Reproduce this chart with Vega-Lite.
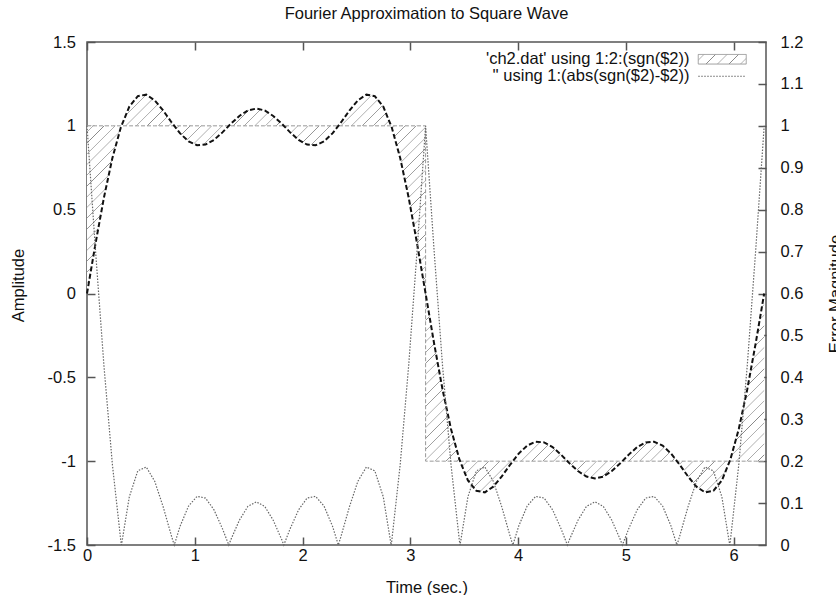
{
  "$schema": "https://vega.github.io/schema/vega-lite/v6.json",
  "width": 679,
  "height": 503,
  "autosize": "none",
  "padding": {"left": 87, "top": 42, "right": 70, "bottom": 50},
  "background": "white",
  "title": {"text": "Fourier Approximation to Square Wave", "fontSize": 16.5, "fontWeight": "normal", "color": "#111", "baseline": "alphabetic", "offset": -1, "anchor": "middle"},
  "datasets": {
    "wave": [
      {"t":0,"amp":0,"sgn":1},{"t":0.0785,"amp":0.296,"sgn":1},{"t":0.1571,"amp":0.572,"sgn":1},{"t":0.2356,"amp":0.808,"sgn":1},{"t":0.3142,"amp":0.991,"sgn":1},{"t":0.3927,"amp":1.115,"sgn":1},{"t":0.4712,"amp":1.177,"sgn":1},{"t":0.5498,"amp":1.186,"sgn":1},{"t":0.6283,"amp":1.152,"sgn":1},{"t":0.7069,"amp":1.091,"sgn":1},{"t":0.7854,"amp":1.020,"sgn":1},{"t":0.8639,"amp":0.955,"sgn":1},{"t":0.9425,"amp":0.907,"sgn":1},{"t":1.0210,"amp":0.884,"sgn":1},{"t":1.0996,"amp":0.888,"sgn":1},{"t":1.1781,"amp":0.916,"sgn":1},{"t":1.2566,"amp":0.961,"sgn":1},{"t":1.3352,"amp":1.013,"sgn":1},{"t":1.4137,"amp":1.059,"sgn":1},{"t":1.4923,"amp":1.092,"sgn":1},{"t":1.5708,"amp":1.103,"sgn":1},{"t":1.6493,"amp":1.092,"sgn":1},{"t":1.7279,"amp":1.059,"sgn":1},{"t":1.8064,"amp":1.013,"sgn":1},{"t":1.8850,"amp":0.961,"sgn":1},{"t":1.9635,"amp":0.916,"sgn":1},{"t":2.0420,"amp":0.888,"sgn":1},{"t":2.1206,"amp":0.884,"sgn":1},{"t":2.1991,"amp":0.907,"sgn":1},{"t":2.2777,"amp":0.955,"sgn":1},{"t":2.3562,"amp":1.020,"sgn":1},{"t":2.4347,"amp":1.091,"sgn":1},{"t":2.5133,"amp":1.152,"sgn":1},{"t":2.5918,"amp":1.186,"sgn":1},{"t":2.6704,"amp":1.177,"sgn":1},{"t":2.7489,"amp":1.115,"sgn":1},{"t":2.8274,"amp":0.991,"sgn":1},{"t":2.9060,"amp":0.808,"sgn":1},{"t":2.9845,"amp":0.572,"sgn":1},{"t":3.0631,"amp":0.296,"sgn":1},{"t":3.1416,"amp":0,"sgn":1},
      {"t":3.1416,"amp":0,"sgn":-1},{"t":3.2201,"amp":-0.296,"sgn":-1},{"t":3.2987,"amp":-0.572,"sgn":-1},{"t":3.3772,"amp":-0.808,"sgn":-1},{"t":3.4558,"amp":-0.991,"sgn":-1},{"t":3.5343,"amp":-1.115,"sgn":-1},{"t":3.6128,"amp":-1.177,"sgn":-1},{"t":3.6914,"amp":-1.186,"sgn":-1},{"t":3.7699,"amp":-1.152,"sgn":-1},{"t":3.8485,"amp":-1.091,"sgn":-1},{"t":3.9270,"amp":-1.020,"sgn":-1},{"t":4.0055,"amp":-0.955,"sgn":-1},{"t":4.0841,"amp":-0.907,"sgn":-1},{"t":4.1626,"amp":-0.884,"sgn":-1},{"t":4.2412,"amp":-0.888,"sgn":-1},{"t":4.3197,"amp":-0.916,"sgn":-1},{"t":4.3982,"amp":-0.961,"sgn":-1},{"t":4.4768,"amp":-1.013,"sgn":-1},{"t":4.5553,"amp":-1.059,"sgn":-1},{"t":4.6339,"amp":-1.092,"sgn":-1},{"t":4.7124,"amp":-1.103,"sgn":-1},{"t":4.7909,"amp":-1.092,"sgn":-1},{"t":4.8695,"amp":-1.059,"sgn":-1},{"t":4.9480,"amp":-1.013,"sgn":-1},{"t":5.0265,"amp":-0.961,"sgn":-1},{"t":5.1051,"amp":-0.916,"sgn":-1},{"t":5.1836,"amp":-0.888,"sgn":-1},{"t":5.2622,"amp":-0.884,"sgn":-1},{"t":5.3407,"amp":-0.907,"sgn":-1},{"t":5.4192,"amp":-0.955,"sgn":-1},{"t":5.4978,"amp":-1.020,"sgn":-1},{"t":5.5763,"amp":-1.091,"sgn":-1},{"t":5.6549,"amp":-1.152,"sgn":-1},{"t":5.7334,"amp":-1.186,"sgn":-1},{"t":5.8119,"amp":-1.177,"sgn":-1},{"t":5.8905,"amp":-1.115,"sgn":-1},{"t":5.9690,"amp":-0.991,"sgn":-1},{"t":6.0476,"amp":-0.808,"sgn":-1},{"t":6.1261,"amp":-0.572,"sgn":-1},{"t":6.2046,"amp":-0.296,"sgn":-1},{"t":6.2832,"amp":0,"sgn":-1}
    ],
    "err": [
      {"t":0,"e":1},{"t":0.0785,"e":0.704},{"t":0.1571,"e":0.428},{"t":0.2356,"e":0.192},{"t":0.3142,"e":0.009},{"t":0.3197,"e":0},{"t":0.3927,"e":0.115},{"t":0.4712,"e":0.177},{"t":0.5498,"e":0.186},{"t":0.6283,"e":0.152},{"t":0.7069,"e":0.091},{"t":0.7854,"e":0.020},{"t":0.8097,"e":0},{"t":0.8639,"e":0.045},{"t":0.9425,"e":0.093},{"t":1.0210,"e":0.116},{"t":1.0996,"e":0.112},{"t":1.1781,"e":0.084},{"t":1.2566,"e":0.039},{"t":1.3155,"e":0},{"t":1.3352,"e":0.013},{"t":1.4137,"e":0.059},{"t":1.4923,"e":0.092},{"t":1.5708,"e":0.103},{"t":1.6493,"e":0.092},{"t":1.7279,"e":0.059},{"t":1.8064,"e":0.013},{"t":1.8261,"e":0},{"t":1.8850,"e":0.039},{"t":1.9635,"e":0.084},{"t":2.0420,"e":0.112},{"t":2.1206,"e":0.116},{"t":2.1991,"e":0.093},{"t":2.2777,"e":0.045},{"t":2.3319,"e":0},{"t":2.3562,"e":0.020},{"t":2.4347,"e":0.091},{"t":2.5133,"e":0.152},{"t":2.5918,"e":0.186},{"t":2.6704,"e":0.177},{"t":2.7489,"e":0.115},{"t":2.8219,"e":0},{"t":2.8274,"e":0.009},{"t":2.9060,"e":0.192},{"t":2.9845,"e":0.428},{"t":3.0631,"e":0.704},{"t":3.1416,"e":1},
      {"t":3.2201,"e":0.704},{"t":3.2987,"e":0.428},{"t":3.3772,"e":0.192},{"t":3.4558,"e":0.009},{"t":3.4613,"e":0},{"t":3.5343,"e":0.115},{"t":3.6128,"e":0.177},{"t":3.6914,"e":0.186},{"t":3.7699,"e":0.152},{"t":3.8485,"e":0.091},{"t":3.9270,"e":0.020},{"t":3.9513,"e":0},{"t":4.0055,"e":0.045},{"t":4.0841,"e":0.093},{"t":4.1626,"e":0.116},{"t":4.2412,"e":0.112},{"t":4.3197,"e":0.084},{"t":4.3982,"e":0.039},{"t":4.4571,"e":0},{"t":4.4768,"e":0.013},{"t":4.5553,"e":0.059},{"t":4.6339,"e":0.092},{"t":4.7124,"e":0.103},{"t":4.7909,"e":0.092},{"t":4.8695,"e":0.059},{"t":4.9480,"e":0.013},{"t":4.9677,"e":0},{"t":5.0265,"e":0.039},{"t":5.1051,"e":0.084},{"t":5.1836,"e":0.112},{"t":5.2622,"e":0.116},{"t":5.3407,"e":0.093},{"t":5.4192,"e":0.045},{"t":5.4735,"e":0},{"t":5.4978,"e":0.020},{"t":5.5763,"e":0.091},{"t":5.6549,"e":0.152},{"t":5.7334,"e":0.186},{"t":5.8119,"e":0.177},{"t":5.8905,"e":0.115},{"t":5.9635,"e":0},{"t":5.9690,"e":0.009},{"t":6.0476,"e":0.192},{"t":6.1261,"e":0.428},{"t":6.2046,"e":0.704},{"t":6.2832,"e":1}
    ]
  },
  "layer": [
    {
      "data": {"name": "wave"},
      "encoding": {
        "x": {"field": "t", "type": "quantitative", "scale": {"domain": [0, 6.3], "nice": false, "zero": false},
          "axis": {"orient": "bottom", "values": [0,1,2,3,4,5,6], "format": "d", "labelBaseline": "alphabetic", "labelPadding": 23, "title": "Time (sec.)", "titleY": 47, "titleBaseline": "alphabetic"}},
        "y": {"field": "amp", "type": "quantitative", "scale": {"domain": [-1.5, 1.5], "nice": false, "zero": false},
          "axis": {"orient": "left", "values": [-1.5,-1,-0.5,0,0.5,1,1.5], "labelExpr": "'' + datum.value", "labelPadding": 19.5, "title": "Amplitude", "titleX": -64, "titleY": 243, "titleBaseline": "alphabetic", "titleAngle": 270}}
      },
      "layer": [
        {
          "mark": {"type": "area", "fill": {"gradient": "linear", "x1": 0, "y1": 0, "x2": 1.18, "y2": 0.694, "stops": [
        {"offset":0,"color":"#fff"},
        {"offset":0.0043,"color":"#fff"},{"offset":0.005,"color":"#888"},{"offset":0.0057,"color":"#fff"},
        {"offset":0.0143,"color":"#fff"},{"offset":0.015,"color":"#888"},{"offset":0.0157,"color":"#fff"},
        {"offset":0.0243,"color":"#fff"},{"offset":0.025,"color":"#888"},{"offset":0.0257,"color":"#fff"},
        {"offset":0.0343,"color":"#fff"},{"offset":0.035,"color":"#888"},{"offset":0.0357,"color":"#fff"},
        {"offset":0.0443,"color":"#fff"},{"offset":0.045,"color":"#888"},{"offset":0.0457,"color":"#fff"},
        {"offset":0.0543,"color":"#fff"},{"offset":0.055,"color":"#888"},{"offset":0.0557,"color":"#fff"},
        {"offset":0.0643,"color":"#fff"},{"offset":0.065,"color":"#888"},{"offset":0.0657,"color":"#fff"},
        {"offset":0.0743,"color":"#fff"},{"offset":0.075,"color":"#888"},{"offset":0.0757,"color":"#fff"},
        {"offset":0.0843,"color":"#fff"},{"offset":0.085,"color":"#888"},{"offset":0.0857,"color":"#fff"},
        {"offset":0.0943,"color":"#fff"},{"offset":0.095,"color":"#888"},{"offset":0.0957,"color":"#fff"},
        {"offset":0.1043,"color":"#fff"},{"offset":0.105,"color":"#888"},{"offset":0.1057,"color":"#fff"},
        {"offset":0.1143,"color":"#fff"},{"offset":0.115,"color":"#888"},{"offset":0.1157,"color":"#fff"},
        {"offset":0.1243,"color":"#fff"},{"offset":0.125,"color":"#888"},{"offset":0.1257,"color":"#fff"},
        {"offset":0.1343,"color":"#fff"},{"offset":0.135,"color":"#888"},{"offset":0.1357,"color":"#fff"},
        {"offset":0.1443,"color":"#fff"},{"offset":0.145,"color":"#888"},{"offset":0.1457,"color":"#fff"},
        {"offset":0.1543,"color":"#fff"},{"offset":0.155,"color":"#888"},{"offset":0.1557,"color":"#fff"},
        {"offset":0.1643,"color":"#fff"},{"offset":0.165,"color":"#888"},{"offset":0.1657,"color":"#fff"},
        {"offset":0.1743,"color":"#fff"},{"offset":0.175,"color":"#888"},{"offset":0.1757,"color":"#fff"},
        {"offset":0.1843,"color":"#fff"},{"offset":0.185,"color":"#888"},{"offset":0.1857,"color":"#fff"},
        {"offset":0.1943,"color":"#fff"},{"offset":0.195,"color":"#888"},{"offset":0.1957,"color":"#fff"},
        {"offset":0.2043,"color":"#fff"},{"offset":0.205,"color":"#888"},{"offset":0.2057,"color":"#fff"},
        {"offset":0.2143,"color":"#fff"},{"offset":0.215,"color":"#888"},{"offset":0.2157,"color":"#fff"},
        {"offset":0.2243,"color":"#fff"},{"offset":0.225,"color":"#888"},{"offset":0.2257,"color":"#fff"},
        {"offset":0.2343,"color":"#fff"},{"offset":0.235,"color":"#888"},{"offset":0.2357,"color":"#fff"},
        {"offset":0.2443,"color":"#fff"},{"offset":0.245,"color":"#888"},{"offset":0.2457,"color":"#fff"},
        {"offset":0.2543,"color":"#fff"},{"offset":0.255,"color":"#888"},{"offset":0.2557,"color":"#fff"},
        {"offset":0.2643,"color":"#fff"},{"offset":0.265,"color":"#888"},{"offset":0.2657,"color":"#fff"},
        {"offset":0.2743,"color":"#fff"},{"offset":0.275,"color":"#888"},{"offset":0.2757,"color":"#fff"},
        {"offset":0.2843,"color":"#fff"},{"offset":0.285,"color":"#888"},{"offset":0.2857,"color":"#fff"},
        {"offset":0.2943,"color":"#fff"},{"offset":0.295,"color":"#888"},{"offset":0.2957,"color":"#fff"},
        {"offset":0.3043,"color":"#fff"},{"offset":0.305,"color":"#888"},{"offset":0.3057,"color":"#fff"},
        {"offset":0.3143,"color":"#fff"},{"offset":0.315,"color":"#888"},{"offset":0.3157,"color":"#fff"},
        {"offset":0.3243,"color":"#fff"},{"offset":0.325,"color":"#888"},{"offset":0.3257,"color":"#fff"},
        {"offset":0.3343,"color":"#fff"},{"offset":0.335,"color":"#888"},{"offset":0.3357,"color":"#fff"},
        {"offset":0.3443,"color":"#fff"},{"offset":0.345,"color":"#888"},{"offset":0.3457,"color":"#fff"},
        {"offset":0.3543,"color":"#fff"},{"offset":0.355,"color":"#888"},{"offset":0.3557,"color":"#fff"},
        {"offset":0.3643,"color":"#fff"},{"offset":0.365,"color":"#888"},{"offset":0.3657,"color":"#fff"},
        {"offset":0.3743,"color":"#fff"},{"offset":0.375,"color":"#888"},{"offset":0.3757,"color":"#fff"},
        {"offset":0.3843,"color":"#fff"},{"offset":0.385,"color":"#888"},{"offset":0.3857,"color":"#fff"},
        {"offset":0.3943,"color":"#fff"},{"offset":0.395,"color":"#888"},{"offset":0.3957,"color":"#fff"},
        {"offset":0.4043,"color":"#fff"},{"offset":0.405,"color":"#888"},{"offset":0.4057,"color":"#fff"},
        {"offset":0.4143,"color":"#fff"},{"offset":0.415,"color":"#888"},{"offset":0.4157,"color":"#fff"},
        {"offset":0.4243,"color":"#fff"},{"offset":0.425,"color":"#888"},{"offset":0.4257,"color":"#fff"},
        {"offset":0.4343,"color":"#fff"},{"offset":0.435,"color":"#888"},{"offset":0.4357,"color":"#fff"},
        {"offset":0.4443,"color":"#fff"},{"offset":0.445,"color":"#888"},{"offset":0.4457,"color":"#fff"},
        {"offset":0.4543,"color":"#fff"},{"offset":0.455,"color":"#888"},{"offset":0.4557,"color":"#fff"},
        {"offset":0.4643,"color":"#fff"},{"offset":0.465,"color":"#888"},{"offset":0.4657,"color":"#fff"},
        {"offset":0.4743,"color":"#fff"},{"offset":0.475,"color":"#888"},{"offset":0.4757,"color":"#fff"},
        {"offset":0.4843,"color":"#fff"},{"offset":0.485,"color":"#888"},{"offset":0.4857,"color":"#fff"},
        {"offset":0.4943,"color":"#fff"},{"offset":0.495,"color":"#888"},{"offset":0.4957,"color":"#fff"},
        {"offset":0.5043,"color":"#fff"},{"offset":0.505,"color":"#888"},{"offset":0.5057,"color":"#fff"},
        {"offset":0.5143,"color":"#fff"},{"offset":0.515,"color":"#888"},{"offset":0.5157,"color":"#fff"},
        {"offset":0.5243,"color":"#fff"},{"offset":0.525,"color":"#888"},{"offset":0.5257,"color":"#fff"},
        {"offset":0.5343,"color":"#fff"},{"offset":0.535,"color":"#888"},{"offset":0.5357,"color":"#fff"},
        {"offset":0.5443,"color":"#fff"},{"offset":0.545,"color":"#888"},{"offset":0.5457,"color":"#fff"},
        {"offset":0.5543,"color":"#fff"},{"offset":0.555,"color":"#888"},{"offset":0.5557,"color":"#fff"},
        {"offset":0.5643,"color":"#fff"},{"offset":0.565,"color":"#888"},{"offset":0.5657,"color":"#fff"},
        {"offset":0.5743,"color":"#fff"},{"offset":0.575,"color":"#888"},{"offset":0.5757,"color":"#fff"},
        {"offset":0.5843,"color":"#fff"},{"offset":0.585,"color":"#888"},{"offset":0.5857,"color":"#fff"},
        {"offset":0.5943,"color":"#fff"},{"offset":0.595,"color":"#888"},{"offset":0.5957,"color":"#fff"},
        {"offset":0.6043,"color":"#fff"},{"offset":0.605,"color":"#888"},{"offset":0.6057,"color":"#fff"},
        {"offset":0.6143,"color":"#fff"},{"offset":0.615,"color":"#888"},{"offset":0.6157,"color":"#fff"},
        {"offset":0.6243,"color":"#fff"},{"offset":0.625,"color":"#888"},{"offset":0.6257,"color":"#fff"},
        {"offset":0.6343,"color":"#fff"},{"offset":0.635,"color":"#888"},{"offset":0.6357,"color":"#fff"},
        {"offset":0.6443,"color":"#fff"},{"offset":0.645,"color":"#888"},{"offset":0.6457,"color":"#fff"},
        {"offset":0.6543,"color":"#fff"},{"offset":0.655,"color":"#888"},{"offset":0.6557,"color":"#fff"},
        {"offset":0.6643,"color":"#fff"},{"offset":0.665,"color":"#888"},{"offset":0.6657,"color":"#fff"},
        {"offset":0.6743,"color":"#fff"},{"offset":0.675,"color":"#888"},{"offset":0.6757,"color":"#fff"},
        {"offset":0.6843,"color":"#fff"},{"offset":0.685,"color":"#888"},{"offset":0.6857,"color":"#fff"},
        {"offset":0.6943,"color":"#fff"},{"offset":0.695,"color":"#888"},{"offset":0.6957,"color":"#fff"},
        {"offset":0.7043,"color":"#fff"},{"offset":0.705,"color":"#888"},{"offset":0.7057,"color":"#fff"},
        {"offset":0.7143,"color":"#fff"},{"offset":0.715,"color":"#888"},{"offset":0.7157,"color":"#fff"},
        {"offset":0.7243,"color":"#fff"},{"offset":0.725,"color":"#888"},{"offset":0.7257,"color":"#fff"},
        {"offset":0.7343,"color":"#fff"},{"offset":0.735,"color":"#888"},{"offset":0.7357,"color":"#fff"},
        {"offset":0.7443,"color":"#fff"},{"offset":0.745,"color":"#888"},{"offset":0.7457,"color":"#fff"},
        {"offset":0.7543,"color":"#fff"},{"offset":0.755,"color":"#888"},{"offset":0.7557,"color":"#fff"},
        {"offset":0.7643,"color":"#fff"},{"offset":0.765,"color":"#888"},{"offset":0.7657,"color":"#fff"},
        {"offset":0.7743,"color":"#fff"},{"offset":0.775,"color":"#888"},{"offset":0.7757,"color":"#fff"},
        {"offset":0.7843,"color":"#fff"},{"offset":0.785,"color":"#888"},{"offset":0.7857,"color":"#fff"},
        {"offset":0.7943,"color":"#fff"},{"offset":0.795,"color":"#888"},{"offset":0.7957,"color":"#fff"},
        {"offset":0.8043,"color":"#fff"},{"offset":0.805,"color":"#888"},{"offset":0.8057,"color":"#fff"},
        {"offset":0.8143,"color":"#fff"},{"offset":0.815,"color":"#888"},{"offset":0.8157,"color":"#fff"},
        {"offset":0.8243,"color":"#fff"},{"offset":0.825,"color":"#888"},{"offset":0.8257,"color":"#fff"},
        {"offset":0.8343,"color":"#fff"},{"offset":0.835,"color":"#888"},{"offset":0.8357,"color":"#fff"},
        {"offset":0.8443,"color":"#fff"},{"offset":0.845,"color":"#888"},{"offset":0.8457,"color":"#fff"},
        {"offset":0.8543,"color":"#fff"},{"offset":0.855,"color":"#888"},{"offset":0.8557,"color":"#fff"},
        {"offset":0.8643,"color":"#fff"},{"offset":0.865,"color":"#888"},{"offset":0.8657,"color":"#fff"},
        {"offset":0.8743,"color":"#fff"},{"offset":0.875,"color":"#888"},{"offset":0.8757,"color":"#fff"},
        {"offset":0.8843,"color":"#fff"},{"offset":0.885,"color":"#888"},{"offset":0.8857,"color":"#fff"},
        {"offset":0.8943,"color":"#fff"},{"offset":0.895,"color":"#888"},{"offset":0.8957,"color":"#fff"},
        {"offset":0.9043,"color":"#fff"},{"offset":0.905,"color":"#888"},{"offset":0.9057,"color":"#fff"},
        {"offset":0.9143,"color":"#fff"},{"offset":0.915,"color":"#888"},{"offset":0.9157,"color":"#fff"},
        {"offset":0.9243,"color":"#fff"},{"offset":0.925,"color":"#888"},{"offset":0.9257,"color":"#fff"},
        {"offset":0.9343,"color":"#fff"},{"offset":0.935,"color":"#888"},{"offset":0.9357,"color":"#fff"},
        {"offset":0.9443,"color":"#fff"},{"offset":0.945,"color":"#888"},{"offset":0.9457,"color":"#fff"},
        {"offset":0.9543,"color":"#fff"},{"offset":0.955,"color":"#888"},{"offset":0.9557,"color":"#fff"},
        {"offset":0.9643,"color":"#fff"},{"offset":0.965,"color":"#888"},{"offset":0.9657,"color":"#fff"},
        {"offset":0.9743,"color":"#fff"},{"offset":0.975,"color":"#888"},{"offset":0.9757,"color":"#fff"},
        {"offset":0.9843,"color":"#fff"},{"offset":0.985,"color":"#888"},{"offset":0.9857,"color":"#fff"},
        {"offset":0.9943,"color":"#fff"},{"offset":0.995,"color":"#888"},{"offset":0.9957,"color":"#fff"},
        {"offset":1,"color":"#fff"}
      ]}},
          "encoding": {"y2": {"field": "sgn"}}
        },
        {
          "mark": {"type": "line", "strokeWidth": 1, "strokeDash": [4, 2]},
          "encoding": {
            "y": {"field": "sgn", "type": "quantitative", "title": "Amplitude", "scale": {"domain": [-1.5, 1.5], "nice": false, "zero": false}},
            "color": {"datum": "'ch2.dat' using 1:2:(sgn($2))", "type": "nominal",
              "scale": {"domain": ["'ch2.dat' using 1:2:(sgn($2))", "'' using 1:(abs(sgn($2)-$2))"], "range": ["#999999", "#666666"]},
              "legend": {"title": null, "orient": "none", "legendX": 627, "legendY": 9, "padding": 0, "rowPadding": 0, "symbolSize": 144,
                "labelAlign": "right", "labelOffset": -41, "labelFontSize": 16.5, "labelColor": "#111", "labelLimit": 500, "labelBaseline": "middle",
                "encode": {"symbols": {"update": {
                  "shape": [{"test": "datum.index === 0", "value": "M-4,-0.8H4V0.8H-4Z"}, {"value": "M-4,0H4"}],
                  "fill": [{"test": "datum.index === 0", "value": {"gradient": "linear", "x1": 0, "y1": 0, "x2": 1.154, "y2": 0.231, "stops": [
                    {"offset":0,"color":"#fff"},{"offset":0.087,"color":"#fff"},{"offset":0.1,"color":"#888"},{"offset":0.113,"color":"#fff"},{"offset":0.287,"color":"#fff"},{"offset":0.3,"color":"#888"},{"offset":0.313,"color":"#fff"},{"offset":0.487,"color":"#fff"},{"offset":0.5,"color":"#888"},{"offset":0.513,"color":"#fff"},{"offset":0.687,"color":"#fff"},{"offset":0.7,"color":"#888"},{"offset":0.713,"color":"#fff"},{"offset":0.887,"color":"#fff"},{"offset":0.9,"color":"#888"},{"offset":0.913,"color":"#fff"},{"offset":1,"color":"#fff"}]}}, {"value": "transparent"}],
                  "stroke": [{"test": "datum.index === 0", "value": "#888"}, {"value": "#999"}],
                  "strokeWidth": {"value": 1},
                  "strokeDash": [{"test": "datum.index === 0", "value": [1, 0]}, {"value": [1.5, 1.5]}],
                  "opacity": {"value": 1}
                }}}
              }}
          }
        },
        {
          "mark": {"type": "line", "color": "#111", "strokeWidth": 2, "strokeDash": [5, 2.5]},
          "encoding": {}
        }
      ]
    },
    {
      "data": {"name": "err"},
      "mark": {"type": "line", "strokeWidth": 1.2, "strokeDash": [1.5, 1.5]},
      "encoding": {
        "x": {"field": "t", "type": "quantitative", "scale": {"domain": [0, 6.3], "nice": false, "zero": false},
          "axis": {"orient": "top", "values": [0,1,2,3,4,5,6], "labels": false, "title": null}},
        "y": {"field": "e", "type": "quantitative", "scale": {"domain": [0, 1.2], "nice": false, "zero": false},
          "axis": {"orient": "right", "values": [0,0.1,0.2,0.3,0.4,0.5,0.6,0.7,0.8,0.9,1,1.1,1.2], "labelExpr": "'' + datum.value", "labelPadding": 22, "title": "Error Magnitude", "titleAngle": 270, "titleX": 74, "titleY": 251.5, "titleBaseline": "alphabetic"}},
        "color": {"datum": "'' using 1:(abs(sgn($2)-$2))", "type": "nominal"}
      }
    }
  ],
  "resolve": {"scale": {"y": "independent"}, "axis": {"x": "independent", "y": "independent"}},
  "config": {
    "font": "Liberation Sans",
    "view": {"stroke": "#555", "strokeWidth": 1.5},
    "axis": {"domain": false, "grid": false, "tickSize": -8, "tickColor": "#555", "tickWidth": 1.5, "labelFontSize": 16.5, "labelColor": "#111", "titleFontSize": 16.5, "titleFontWeight": "normal", "titleColor": "#111", "labelFlush": false, "labelOverlap": false}
  }
}
